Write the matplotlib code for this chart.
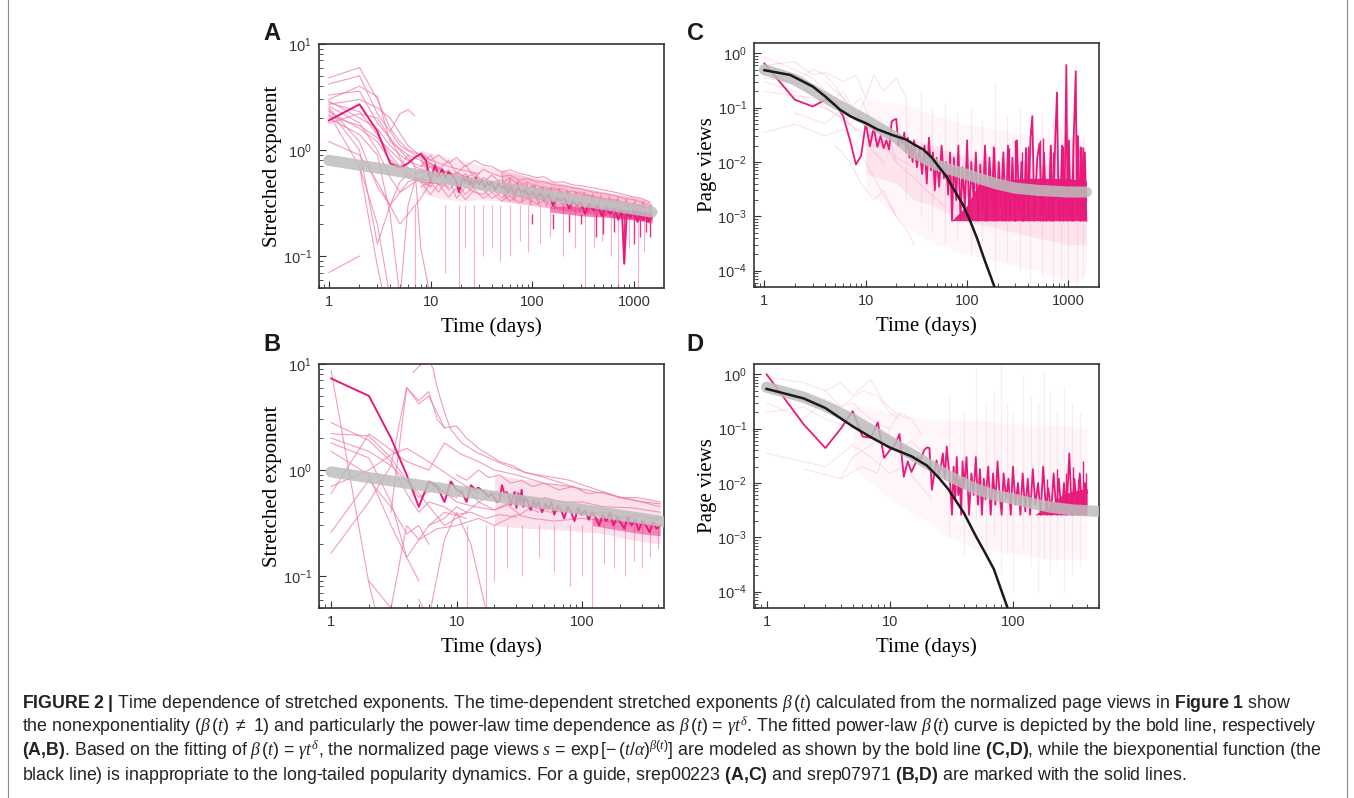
import matplotlib
matplotlib.use('Agg')
import matplotlib.pyplot as plt
from matplotlib.ticker import FixedLocator, LogLocator, NullFormatter, FuncFormatter
from matplotlib.lines import Line2D
import numpy as np

plt.rcParams['font.family'] = ['Liberation Sans', 'DejaVu Sans']
plt.rcParams['mathtext.fontset'] = 'custom'
plt.rcParams['mathtext.rm'] = 'Liberation Sans'
plt.rcParams['mathtext.it'] = 'Liberation Serif:italic'
plt.rcParams['mathtext.bf'] = 'Liberation Sans:bold'

MAG = '#E8197A'
PINK = '#F07AA6'
FAINT = '#F06A9B'
GRAY = '#BDBDBD'

# ---------------- Panel A : stretched exponent, srep00223 ----------------
a_fit_days = [1, 1500]
a_fit_vals = [0.80, 0.26]
a_hi_days = [1, 2, 3, 4, 5, 6, 7, 8, 9, 10, 11, 12, 13, 14, 15, 16, 17, 18, 19, 20,
             21, 22, 23, 24, 25, 26, 28, 30, 32, 34, 36, 38, 40, 43, 46, 50, 54, 58, 62, 67,
             72, 78, 85, 92, 100, 110, 120, 130, 145, 160, 175, 190, 210, 230, 250, 275, 300,
             330, 360, 400, 440, 480, 530, 580, 640, 700, 760, 800, 850, 920, 1000, 1080,
             1150, 1230, 1300, 1380, 1450, 1500]
a_hi_vals = [1.9, 2.7, 1.5, 0.75, 0.68, 0.75, 0.85, 0.92, 0.8, 0.5, 0.72, 0.58, 0.66, 0.55, 0.62,
             0.58, 0.55, 0.5, 0.4, 0.48, 0.55, 0.5, 0.55, 0.47, 0.52, 0.45, 0.55, 0.47, 0.52, 0.44,
             0.5, 0.46, 0.5, 0.42, 0.48, 0.44, 0.46, 0.4, 0.45, 0.38, 0.44, 0.4, 0.42, 0.37, 0.4,
             0.36, 0.39, 0.34, 0.38, 0.3, 0.36, 0.33, 0.35, 0.28, 0.33, 0.3, 0.32, 0.25, 0.31, 0.27,
             0.3, 0.24, 0.29, 0.25, 0.28, 0.22, 0.27, 0.085, 0.26, 0.23, 0.27, 0.21, 0.26, 0.22,
             0.25, 0.21, 0.24, 0.23]
a_hi_spike_days = [100, 160, 230, 300, 420, 500, 640, 800, 1000, 1150, 1300, 1450]
a_hi_spike_vals = [0.2, 0.18, 0.17, 0.2, 0.15, 0.16, 0.17, 0.085, 0.13, 0.15, 0.17, 0.15]
a_core_days = [150, 300, 600, 1000, 1500]
a_core_low = [0.26, 0.24, 0.23, 0.22, 0.21]
a_core_high = [0.3, 0.29, 0.28, 0.27, 0.26]
a_bg = [
    ([1, 2, 3, 4, 5, 6, 8, 10, 15, 20, 30], [4.8, 6.0, 3.0, 1.6, 1.2, 1.0, 0.9, 0.8, 0.7, 0.65, 0.6]),
    ([1, 2, 3, 4, 5, 7, 10, 15, 20, 30], [4.2, 5.0, 2.2, 1.5, 1.1, 0.9, 0.75, 0.6, 0.55, 0.5]),
    ([1, 2, 3, 4, 6, 8, 10, 14, 20, 30], [3.0, 4.0, 3.2, 1.2, 0.9, 0.8, 0.7, 0.62, 0.58, 0.52]),
    ([1, 2, 3, 4, 5, 6, 8, 12, 20], [2.8, 2.3, 1.4, 0.9, 0.7, 0.55, 0.5, 0.48, 0.5]),
    ([1, 2, 3, 4, 5, 7, 10], [2.6, 1.8, 1.0, 0.55, 0.4, 0.5, 0.6]),
    ([1, 2, 3, 4, 5, 8, 10, 15], [2.5, 1.2, 0.45, 0.3, 0.2, 0.35, 0.5, 0.45]),
    ([1, 2, 3, 4, 5, 6], [2.4, 1.0, 0.13, 0.3, 0.5, 0.6]),
    ([1, 2, 3, 3.5], [2.2, 0.7, 0.08, 0.04]),
    ([1, 2, 3, 4, 5, 6, 7], [2.0, 1.4, 0.9, 0.25, 0.04, 0.3, 0.5]),
    ([1, 2, 3, 4, 6, 10], [1.8, 2.2, 2.0, 1.3, 0.6, 0.45]),
    ([1, 2, 3, 5, 7, 10, 20], [3.3, 3.6, 1.8, 1.0, 0.7, 0.6, 0.55]),
    ([1, 2, 3, 4, 6, 9, 12], [2.7, 3.0, 2.5, 2.0, 1.1, 0.8, 0.65]),
    ([4, 5, 6, 7], [1.5, 2.2, 2.4, 2.1]),
    ([1, 2], [0.07, 0.1]),
    ([1, 2, 3, 4, 5, 6, 8, 10], [1.2, 0.9, 0.5, 0.3, 0.4, 0.5, 0.55, 0.5]),
    ([2, 3, 4, 5], [0.7, 0.2, 0.04, 0.02]),
    ([1, 2, 3, 4, 5, 6, 7, 8, 10], [2.3, 1.6, 1.2, 0.8, 0.7, 0.9, 0.7, 0.12, 0.04]),
    ([1, 2, 3, 4, 5, 6, 8, 10, 12], [2.9, 2.0, 1.6, 1.1, 0.9, 0.8, 0.7, 0.75, 0.6]),
    ([1, 2, 3, 4, 5, 7, 9, 12], [2.1, 1.7, 1.3, 1.0, 0.8, 0.6, 0.65, 0.55]),
]
a_mesh_days = [8, 10, 12, 15, 18, 22, 27, 33, 40, 50, 60, 75, 90, 110, 130, 160, 200, 250,
               300, 400, 500, 650, 800, 1000, 1200, 1450]
a_mesh = [
    [0.95, 0.8, 0.9, 0.75, 0.85, 0.7, 0.8, 0.72, 0.7, 0.62, 0.65, 0.6, 0.58, 0.55, 0.56, 0.5,
     0.5, 0.47, 0.46, 0.44, 0.42, 0.4, 0.38, 0.36, 0.35, 0.32],
    [0.6, 0.7, 0.55, 0.65, 0.5, 0.6, 0.48, 0.55, 0.5, 0.52, 0.45, 0.5, 0.44, 0.47, 0.42, 0.44,
     0.4, 0.41, 0.38, 0.37, 0.35, 0.34, 0.32, 0.31, 0.3, 0.28],
    [0.45, 0.5, 0.4, 0.55, 0.35, 0.45, 0.4, 0.38, 0.45, 0.35, 0.42, 0.36, 0.4, 0.34, 0.36, 0.33,
     0.34, 0.31, 0.32, 0.3, 0.28, 0.28, 0.26, 0.25, 0.25, 0.24],
    [0.8, 0.6, 0.7, 0.5, 0.62, 0.55, 0.6, 0.5, 0.58, 0.48, 0.55, 0.46, 0.5, 0.43, 0.45, 0.42,
     0.43, 0.38, 0.4, 0.36, 0.34, 0.33, 0.31, 0.3, 0.29, 0.27],
    [0.55, 0.45, 0.6, 0.42, 0.5, 0.38, 0.46, 0.42, 0.35, 0.4, 0.33, 0.38, 0.35, 0.37, 0.33, 0.35,
     0.31, 0.33, 0.3, 0.29, 0.27, 0.27, 0.25, 0.24, 0.23, 0.22],
    [0.7, 0.9, 0.65, 0.8, 0.6, 0.72, 0.55, 0.66, 0.6, 0.56, 0.58, 0.52, 0.54, 0.5, 0.5, 0.47,
     0.46, 0.44, 0.43, 0.4, 0.39, 0.37, 0.35, 0.34, 0.32, 0.3],
    [0.5, 0.38, 0.48, 0.36, 0.44, 0.34, 0.42, 0.35, 0.4, 0.33, 0.37, 0.32, 0.35, 0.31, 0.33,
     0.3, 0.31, 0.29, 0.29, 0.27, 0.26, 0.25, 0.24, 0.23, 0.22, 0.21],
]
a_zz_days = [50, 55, 60, 66, 72, 80, 88, 96, 105, 115, 126, 138, 152, 167, 184, 202, 222, 244,
             268, 295, 324, 356, 392, 431, 474, 521, 573, 630, 693, 762, 838, 922, 1014, 1115,
             1226, 1349, 1480]
a_zz_vals = [0.6, 0.35, 0.55, 0.33, 0.52, 0.32, 0.5, 0.3, 0.48, 0.3, 0.46, 0.29, 0.45, 0.28,
             0.44, 0.27, 0.42, 0.27, 0.41, 0.26, 0.4, 0.25, 0.39, 0.25, 0.38, 0.24, 0.37, 0.23,
             0.36, 0.23, 0.35, 0.22, 0.34, 0.22, 0.33, 0.21, 0.3]
a_mesh_band_days = [8, 12, 20, 30, 50]
a_mesh_band_high = [1.0, 0.9, 0.8, 0.72, 0.65]
a_mesh_band_low = [0.4, 0.35, 0.33, 0.34, 0.33]
a_band_days = [50, 100, 200, 400, 700, 1000, 1300, 1500]
a_band_high = [0.65, 0.55, 0.48, 0.42, 0.38, 0.36, 0.34, 0.31]
a_band_low = [0.33, 0.3, 0.27, 0.25, 0.23, 0.22, 0.21, 0.2]
a_spike_days = [7, 14, 19, 22, 27, 33, 40, 48, 60, 75, 90, 120, 150, 200, 260, 330, 400, 480,
                600, 700, 900, 1100, 1250]
a_spike_vals = [0.05, 0.07, 0.05, 0.12, 0.05, 0.1, 0.12, 0.09, 0.1, 0.14, 0.11, 0.13, 0.15,
                0.1, 0.12, 0.05, 0.12, 0.14, 0.1, 0.05, 0.12, 0.05, 0.11]

# ---------------- Panel B : stretched exponent, srep07971 ----------------
b_fit_days = [1, 450]
b_fit_vals = [0.96, 0.325]
b_hi_days = [1, 2, 3, 4, 5, 6, 7, 8, 9, 10, 11, 12, 13, 14, 15, 16, 17, 18, 19, 20, 21, 22, 23,
             24, 25, 26, 27, 28, 29, 30, 31, 32, 33, 34, 35, 37, 39, 41, 43, 45, 48, 51, 54, 57,
             60, 64, 68, 72, 77, 82, 87, 93, 99, 106, 113, 120, 128, 137, 146, 156, 167, 178,
             190, 203, 217, 232, 248, 265, 283, 302, 323, 345, 368, 393, 420]
b_hi_vals = [7.3, 5.0, 2.0, 0.9, 0.45, 0.78, 0.7, 0.5, 0.78, 0.65, 0.62, 0.5, 0.72, 0.66, 0.68,
             0.64, 0.6, 0.56, 0.6, 0.54, 0.5, 0.52, 0.72, 0.6, 0.62, 0.58, 0.47, 0.55, 0.62, 0.44,
             0.6, 0.5, 0.65, 0.45, 0.55, 0.5, 0.42, 0.52, 0.45, 0.5, 0.4, 0.48, 0.43, 0.5, 0.38,
             0.46, 0.42, 0.35, 0.45, 0.4, 0.33, 0.44, 0.38, 0.42, 0.34, 0.4, 0.36, 0.3, 0.38, 0.33,
             0.4, 0.3, 0.36, 0.32, 0.28, 0.36, 0.3, 0.34, 0.27, 0.33, 0.3, 0.26, 0.32, 0.28, 0.3]
b_core_days = [120, 200, 300, 420]
b_core_low = [0.3, 0.27, 0.25, 0.24]
b_core_high = [0.36, 0.34, 0.32, 0.31]
b_bg = [
    ([1, 2, 2.5], [8.6, 0.085, 0.03]),
    ([1, 2, 3, 4, 5, 6, 8, 10, 13, 17, 22, 30], [2.8, 1.9, 1.2, 0.6, 0.4, 0.5, 0.45, 0.38, 0.4, 0.35, 0.38, 0.36]),
    ([1, 2, 3, 4, 5, 7, 10, 14, 20, 30, 45], [2.2, 2.1, 1.3, 0.8, 0.55, 0.7, 0.5, 0.45, 0.42, 0.5, 0.4]),
    ([1, 2, 3, 4, 6, 8, 12], [1.8, 1.3, 0.5, 0.15, 0.3, 0.4, 0.35]),
    ([1, 2, 3, 4, 5], [1.5, 0.9, 0.3, 0.15, 0.09]),
    ([1, 2, 3, 4, 5, 6, 8], [2.0, 1.5, 1.1, 6.0, 4.2, 5.0, 2.5]),
    ([1, 2, 3, 4, 6, 10, 15], [0.7, 1.0, 1.4, 1.6, 1.2, 0.8, 0.6]),
    ([1, 2, 3, 4, 5, 6], [0.26, 0.8, 0.45, 0.25, 0.3, 0.2]),
    ([1, 2, 3, 5, 8, 12], [0.165, 0.5, 1.1, 0.6, 0.3, 0.4]),
    ([1, 2, 4, 6, 8, 11, 15, 20, 30, 50, 80, 150, 300, 420],
     [0.6, 2.2, 1.2, 1.0, 1.8, 1.4, 1.2, 1.0, 0.9, 0.75, 0.7, 0.6, 0.5, 0.45]),
    ([3, 4, 5, 6, 7, 8, 10, 12, 15, 18, 22, 28, 35, 45, 60, 80, 110, 150, 200, 300, 420],
     [0.4, 6.0, 4.5, 5.5, 3.0, 2.5, 2.6, 2.0, 1.6, 1.4, 1.2, 1.1, 0.95, 0.9, 0.85, 0.8, 0.7, 0.62, 0.55, 0.5, 0.48]),
    ([4.5, 5, 6, 6.5, 7, 8, 9, 11, 14, 18, 25, 35, 50, 70, 100],
     [8.3, 9.5, 11, 9.0, 6.0, 3.5, 2.4, 1.8, 1.5, 1.3, 1.1, 0.95, 0.85, 0.75, 0.65]),
    ([5, 6, 8, 10, 13, 17, 22], [0.06, 0.04, 0.22, 0.4, 0.2, 0.05, 0.03]),
    ([2, 3, 4, 5, 7, 10, 15, 20, 30, 40, 60, 100, 200, 420],
     [0.09, 0.05, 0.3, 0.22, 0.28, 0.3, 0.35, 0.3, 0.38, 0.35, 0.33, 0.35, 0.32, 0.3]),
    ([6, 8, 10, 12, 15, 20, 25, 32, 40, 55, 75, 100, 140, 200, 300, 420],
     [0.3, 0.35, 0.45, 0.4, 0.5, 0.42, 0.48, 0.38, 0.45, 0.4, 0.42, 0.38, 0.4, 0.36, 0.37, 0.34]),
    ([8, 10, 12, 15, 20, 25, 30, 40, 50, 70, 100, 150, 250, 420],
     [0.6, 0.55, 0.7, 0.5, 0.6, 0.55, 0.62, 0.5, 0.55, 0.5, 0.5, 0.45, 0.44, 0.4]),
    ([10, 12, 15, 18, 22, 27, 33, 40, 50, 65, 85, 110, 150, 200, 280, 420],
     [0.9, 0.8, 1.0, 0.85, 0.9, 0.75, 0.8, 0.7, 0.75, 0.65, 0.7, 0.6, 0.62, 0.55, 0.55, 0.5]),
]
b_band_days = [20, 40, 80, 150, 250, 420]
b_band_high = [0.9, 0.8, 0.7, 0.6, 0.55, 0.5]
b_band_low = [0.3, 0.28, 0.27, 0.25, 0.22, 0.2]
b_spike_days = [12, 17, 20, 25, 33, 45, 60, 80, 100, 120, 150, 180, 220, 260, 300, 350, 400]
b_spike_vals = [0.05, 0.05, 0.09, 0.12, 0.1, 0.15, 0.11, 0.08, 0.1, 0.05, 0.13, 0.12, 0.1,
                0.14, 0.12, 0.15, 0.18]

# ---------------- Panel C : page views, srep00223 ----------------
c_fit_days = [1, 2, 3, 5, 8, 10, 15, 20, 30, 50, 70, 100, 150, 200, 300, 500, 700, 1000, 1500]
c_fit_vals = [0.5, 0.33, 0.21, 0.12, 0.075, 0.06, 0.038, 0.028, 0.0148, 0.0088, 0.0072, 0.0059,
              0.0046, 0.0039, 0.0033, 0.003, 0.0029, 0.0028, 0.0028]
c_bx_days = [1, 1.8, 3, 4, 5.6, 7, 8, 10, 13, 18.6, 25, 30, 37, 45, 53, 62, 75, 90, 105, 125,
             150, 170, 190]
c_bx_vals = [0.49, 0.40, 0.245, 0.16, 0.091, 0.07, 0.062, 0.052, 0.04, 0.031, 0.026, 0.021,
             0.017, 0.012, 0.008, 0.0055, 0.003, 0.0017, 0.0009, 0.0004, 0.00015, 8e-5, 4.5e-5]
c_hi_days = [1, 2, 3, 4, 5, 6, 7, 8, 9, 10, 11, 12, 13, 14, 15, 16, 17, 18, 19, 20, 21, 22, 23,
             24, 25, 26, 27, 28, 29, 30, 32, 34, 36, 38, 40, 42, 44, 46, 48, 50, 53, 56, 59, 62,
             65, 68, 71, 74, 78, 82, 86, 90, 95, 100, 105, 110, 116, 122, 128, 135, 142, 150,
             158, 166, 175, 185, 195, 205, 216, 228, 240, 253, 266, 280, 295, 310, 327, 344,
             362, 381, 401, 422, 440, 460, 492, 518, 545, 574, 604, 636, 670, 705, 742, 770,
             800, 822, 865, 910, 953, 980, 1010, 1050, 1080, 1120, 1180, 1210, 1240, 1300,
             1350, 1400, 1450, 1500]
c_hi_vals = [0.65, 0.14, 0.105, 0.14, 0.12, 0.069, 0.025, 0.009, 0.013, 0.052, 0.0195, 0.043,
             0.019, 0.03, 0.018, 0.025, 0.017, 0.055, 0.06, 0.062, 0.02, 0.03, 0.022, 0.035,
             0.015, 0.028, 0.012, 0.02, 0.01, 0.025, 0.008, 0.018, 0.006, 0.02, 0.004, 0.028,
             0.007, 0.015, 0.003, 0.012, 0.0035, 0.02, 0.005, 0.01, 0.0025, 0.015, 0.00083,
             0.012, 0.002, 0.02, 0.0009, 0.008, 0.0015, 0.025, 0.00083, 0.01, 0.002, 0.015,
             0.00083, 0.009, 0.0012, 0.02, 0.00083, 0.012, 0.002, 0.018, 0.00083, 0.01, 0.0015,
             0.015, 0.00083, 0.02, 0.001, 0.012, 0.00083, 0.025, 0.0012, 0.01, 0.00083, 0.018,
             0.0011, 0.028, 0.07, 0.00083, 0.012, 0.022, 0.0012, 0.015, 0.00083, 0.0009, 0.02,
             0.00083, 0.03, 0.19, 0.0011, 0.00083, 0.02, 0.001, 0.61, 0.00083, 0.025, 0.0009,
             0.00083, 0.02, 0.47, 0.001, 0.03, 0.00083, 0.018, 0.0009, 0.015, 0.00083]
c_core_days = [70, 100, 130, 200, 400, 700, 1000, 1500]
c_core_low = [0.00083, 0.00083, 0.00083, 0.00083, 0.00083, 0.00083, 0.00083, 0.00083]
c_core_high = [0.00083, 0.0016, 0.004, 0.0045, 0.005, 0.005, 0.005, 0.0045]
c_hspk_days = [150, 180, 220, 260, 300, 350, 400, 520, 560, 650, 700, 880, 1100, 1300, 1400]
c_hspk_vals = [0.015, 0.02, 0.012, 0.018, 0.025, 0.015, 0.02, 0.025, 0.028, 0.02, 0.015, 0.02,
               0.03, 0.02, 0.019]
c_bg = [
    ([1, 2, 3, 4, 5, 6, 8, 10, 12], [0.85, 0.5, 0.35, 0.2, 0.15, 0.2, 0.08, 0.05, 0.03]),
    ([1, 2, 3, 4, 5, 7, 9, 11], [0.35, 0.3, 0.5, 0.4, 0.25, 0.1, 0.15, 0.06]),
    ([1, 2, 3, 5, 7, 9, 12, 15], [0.3, 0.2, 0.12, 0.08, 0.05, 0.03, 0.015, 0.01]),
    ([1, 2, 4, 6, 8, 10, 13, 16, 20], [0.035, 0.05, 0.03, 0.04, 0.02, 0.01, 0.004, 0.002, 0.001]),
    ([1, 2, 3, 4, 6, 8, 10], [0.6, 0.7, 0.4, 0.45, 0.3, 0.4, 0.15]),
    ([1, 3, 5, 7, 9, 11, 14, 17, 20], [0.2, 0.15, 0.12, 0.05, 0.08, 0.03, 0.02, 0.03, 0.01]),
    ([2, 4, 6, 8, 10, 12, 15, 20, 25], [0.08, 0.05, 0.1, 0.06, 0.15, 0.4, 0.2, 0.35, 0.15]),
    ([1, 2, 3, 4, 6, 8, 10, 15, 20, 30], [0.5, 0.25, 0.18, 0.1, 0.06, 0.04, 0.035, 0.02, 0.012, 0.008]),
    ([4, 6, 8, 10, 15, 20, 30, 40, 60], [0.3, 0.15, 0.08, 0.045, 0.02, 0.01, 0.005, 0.003, 0.0015]),
    ([5, 7, 9, 12, 15, 20, 25, 30], [0.02, 0.01, 0.004, 0.002, 0.003, 0.001, 0.0006, 0.0003]),
]
c_mass_days = [10, 20, 30, 50, 70, 100, 200, 300, 500, 700, 1000, 1300, 1500]
c_mass_high = [0.15, 0.12, 0.1, 0.07, 0.06, 0.05, 0.04, 0.035, 0.03, 0.03, 0.03, 0.028, 0.02]
c_mass_low = [0.003, 0.001, 5e-4, 3e-4, 2.5e-4, 2e-4, 1.5e-4, 1.2e-4, 1e-4, 8e-5, 6e-5, 6e-5, 1e-4]
c_dense_high = [0.04, 0.03, 0.025, 0.02, 0.015, 0.012, 0.01, 0.01, 0.009, 0.009, 0.009, 0.009, 0.008]
c_dense_low = [0.006, 0.004, 0.002, 0.0015, 0.001, 8e-4, 6e-4, 5e-4, 4e-4, 3.5e-4, 3e-4, 3e-4, 3e-4]
c_fspk_days = [25, 35, 45, 60, 80, 110, 140, 190, 250, 330, 420, 550, 700, 850, 1000, 1200, 1400]
c_fspk_top = [0.15, 0.2, 0.1, 0.12, 0.08, 0.1, 0.06, 0.3, 0.07, 0.1, 0.05, 0.08, 0.06, 0.05,
              0.05, 0.04, 0.03]
c_fspk_bot = [0.002, 0.001, 5e-4, 3e-4, 4e-4, 2e-4, 3e-4, 1e-4, 1.5e-4, 1e-4, 6e-5, 8e-5,
              5e-5, 5e-5, 5e-5, 5e-5, 8e-5]

# ---------------- Panel D : page views, srep07971 ----------------
d_fit_days = [1, 2, 3, 5, 8, 10, 15, 20, 30, 50, 70, 100, 150, 200, 300, 500]
d_fit_vals = [0.58, 0.38, 0.26, 0.15, 0.08, 0.058, 0.034, 0.023, 0.0135, 0.0078, 0.006,
              0.0051, 0.0041, 0.0036, 0.0032, 0.003]
d_bx_days = [1, 2, 3, 5, 7, 10, 15, 20, 25, 30, 40, 50, 60, 70, 80, 92]
d_bx_vals = [0.54, 0.36, 0.24, 0.11, 0.07, 0.045, 0.031, 0.021, 0.0125, 0.0076, 0.0028,
             0.00105, 5e-4, 2.6e-4, 1.1e-4, 4.5e-5]
d_hi_days = [1, 2, 3, 4, 5, 6, 7, 8, 9, 10, 11, 12, 13, 14, 15, 16, 17, 18, 19, 20, 21, 22, 23,
             24, 25, 26, 27, 28, 29, 30, 31, 32, 33, 34, 35, 36, 37, 38, 39, 40, 42, 44, 46, 48,
             50, 52, 54, 56, 58, 60, 63, 66, 69, 72, 75, 78, 81, 84, 88, 92, 96, 100, 105, 110,
             115, 120, 126, 132, 138, 145, 152, 160, 168, 176, 185, 194, 204, 214, 225, 236,
             248, 260, 273, 287, 301, 316, 332, 349, 366, 384, 400]
d_hi_vals = [1.0, 0.12, 0.044, 0.1, 0.21, 0.072, 0.068, 0.13, 0.029, 0.04, 0.05, 0.08, 0.013,
             0.025, 0.016, 0.022, 0.03, 0.028, 0.04, 0.045, 0.044, 0.0075, 0.015, 0.026, 0.014,
             0.02, 0.035, 0.012, 0.047, 0.02, 0.009, 0.0026, 0.02, 0.005, 0.03, 0.006, 0.012,
             0.0026, 0.025, 0.008, 0.03, 0.0026, 0.015, 0.006, 0.03, 0.004, 0.018, 0.0026, 0.012,
             0.005, 0.02, 0.0026, 0.015, 0.004, 0.025, 0.006, 0.0026, 0.015, 0.005, 0.012, 0.0026,
             0.02, 0.004, 0.01, 0.0026, 0.015, 0.003, 0.012, 0.0026, 0.018, 0.004, 0.01, 0.0026,
             0.02, 0.0035, 0.008, 0.0026, 0.015, 0.003, 0.012, 0.0026, 0.01, 0.003, 0.035,
             0.0026, 0.012, 0.003, 0.015, 0.0026, 0.01, 0.0065]
d_core_days = [150, 200, 250, 300, 400]
d_core_low = [0.0026, 0.0026, 0.0026, 0.0026, 0.0026]
d_core_high = [0.0026, 0.004, 0.006, 0.007, 0.008]
d_hspk_days = [190, 230, 270, 310, 340, 370, 390]
d_hspk_vals = [0.012, 0.018, 0.015, 0.02, 0.012, 0.025, 0.015]
d_bg = [
    ([1, 2, 3, 4, 5, 6, 8, 10], [0.9, 0.7, 0.5, 0.25, 0.3, 0.2, 0.12, 0.1]),
    ([1, 2, 3, 4, 6, 8, 10, 12], [0.3, 0.15, 0.35, 0.25, 0.5, 0.4, 0.2, 0.15]),
    ([1, 2, 3, 5, 7, 10, 14], [0.2, 0.25, 0.15, 0.1, 0.12, 0.06, 0.04]),
    ([1, 3, 5, 7, 10, 13, 17, 22], [0.035, 0.02, 0.05, 0.03, 0.015, 0.02, 0.01, 0.005]),
    ([3, 4, 5, 6, 7, 9, 11, 14], [0.5, 0.7, 0.4, 0.6, 0.8, 0.3, 0.2, 0.15]),
    ([4, 5, 7, 9, 12, 15, 20, 25, 30], [0.012, 0.03, 0.05, 0.08, 0.04, 0.06, 0.03, 0.02, 0.015]),
    ([2, 4, 6, 8, 10, 12, 15, 18], [0.018, 0.012, 0.02, 0.015, 0.1, 0.2, 0.15, 0.08]),
]
d_mass_days = [5, 10, 20, 30, 50, 100, 200, 400]
d_mass_high = [0.3, 0.2, 0.15, 0.15, 0.15, 0.12, 0.12, 0.1]
d_mass_low = [0.02, 0.005, 0.002, 0.001, 6e-4, 5e-4, 4e-4, 4e-4]
d_fspk_days = [30, 40, 50, 60, 70, 80, 90, 100, 120, 140, 160, 180, 200, 230, 260, 300, 350]
d_fspk_top = [0.4, 0.2, 1.3, 0.3, 0.5, 1.5, 0.3, 0.2, 1.0, 0.4, 0.3, 1.2, 0.5, 0.2, 0.6, 0.3, 0.2]
d_fspk_bot = [0.001, 5e-4, 0.002, 3e-4, 1e-3, 2e-4, 5e-4, 1e-4, 6e-4, 3e-4, 1e-4, 4e-4, 2e-4,
              3e-4, 1e-4, 2e-4, 3e-4]

caption_lines = [
    r"$\mathbf{FIGURE\ 2\ |}$ Time dependence of stretched exponents. The time-dependent stretched exponents $\beta\,(t)$ calculated from the normalized page views in $\mathbf{Figure\ 1}$ show",
    r"the nonexponentiality ($\beta\,(t)$ $\neq$ 1) and particularly the power-law time dependence as $\beta\,(t)$ = $\gamma t^{\delta}$. The fitted power-law $\beta\,(t)$ curve is depicted by the bold line, respectively",
    r"$\mathbf{(A{,}B)}$. Based on the fitting of $\beta\,(t)$ = $\gamma t^{\delta}$, the normalized page views $s$ = exp$\,[-\,(t/\alpha)^{\beta(t)}]$ are modeled as shown by the bold line $\mathbf{(C{,}D)}$, while the biexponential function (the",
    r"black line) is inappropriate to the long-tailed popularity dynamics. For a guide, srep00223 $\mathbf{(A{,}C)}$ and srep07971 $\mathbf{(B{,}D)}$ are marked with the solid lines.",
]

W, H = 1354, 798
fig = plt.figure(figsize=(W / 100, H / 100), dpi=100)


def fax(l, t, r, b):
    return fig.add_axes([l / W, 1 - b / H, (r - l) / W, (b - t) / H])


def style(ax, xlim, ylim, xt, yt, ylabel):
    ax.set_xscale('log')
    ax.set_yscale('log')
    ax.set_xlim(xlim)
    ax.set_ylim(ylim)
    ax.xaxis.set_major_locator(FixedLocator(xt))
    ax.xaxis.set_major_formatter(FuncFormatter(lambda v, p: '%d' % round(v)))
    ax.xaxis.set_minor_locator(LogLocator(base=10, subs=(2, 3, 4, 5, 6, 7, 8, 9), numticks=30))
    ax.xaxis.set_minor_formatter(NullFormatter())
    ax.yaxis.set_major_locator(FixedLocator(yt))
    ax.yaxis.set_major_formatter(FuncFormatter(
        lambda v, p: r'$\mathregular{10^{%d}}$' % round(np.log10(v))))
    ax.yaxis.set_minor_locator(LogLocator(base=10, subs=(2, 3, 4, 5, 6, 7, 8, 9), numticks=30))
    ax.yaxis.set_minor_formatter(NullFormatter())
    ax.tick_params(which='both', direction='in', top=False, right=False,
                   colors='#333333', labelcolor='#333333', labelsize=10.5)
    ax.tick_params(which='major', length=5, width=0.8, pad=5)
    ax.tick_params(which='minor', length=3, width=0.6)
    for s in ax.spines.values():
        s.set_color('#333333')
        s.set_linewidth(1.2)
    ax.set_xlabel('Time (days)', family='Liberation Serif', fontsize=15, labelpad=6)
    ax.set_ylabel(ylabel, family='Liberation Serif', fontsize=15)
    ax.yaxis.set_label_coords(-0.107, 0.5)


def lines(ax, series, color, lw, alpha, z=2):
    for d, v in series:
        ax.plot(d, v, color=color, lw=lw, alpha=alpha, zorder=z, solid_joinstyle='miter')


def spikes(ax, days, lo, hi, color, lw, alpha, z=2):
    ax.vlines(days, lo, hi, color=color, lw=lw, alpha=alpha, zorder=z)


# ----- A -----
axA = fax(319, 44, 664, 288)
axA.fill_between(a_mesh_band_days, a_mesh_band_low, a_mesh_band_high, color=PINK, alpha=0.18, lw=0, zorder=1)
axA.fill_between(a_band_days, a_band_low, a_band_high, color=PINK, alpha=0.45, lw=0, zorder=1)
lines(axA, a_bg, PINK, 0.8, 0.75)
lines(axA, [(a_mesh_days, m) for m in a_mesh], PINK, 0.8, 0.75)
lines(axA, [(a_zz_days, a_zz_vals)], PINK, 0.8, 0.8)
spikes(axA, a_spike_days, a_spike_vals, [0.3] * len(a_spike_days), PINK, 0.8, 0.6)
axA.fill_between(a_core_days, a_core_low, a_core_high, color=MAG, alpha=0.55, lw=0, zorder=3)
spikes(axA, a_hi_spike_days, a_hi_spike_vals, [0.25] * len(a_hi_spike_days), MAG, 1.0, 0.9, 3)
axA.plot(a_hi_days, a_hi_vals, color=MAG, lw=1.4, zorder=3)
axA.plot(a_fit_days, a_fit_vals, color=GRAY, lw=8, alpha=0.85, solid_capstyle='round', zorder=4)
style(axA, (0.8, 1970), (0.05, 10), [1, 10, 100, 1000], [0.1, 1, 10], 'Stretched exponent')

# ----- B -----
axB = fax(319, 364, 664, 608)
axB.fill_between(b_band_days, b_band_low, b_band_high, color=PINK, alpha=0.22, lw=0, zorder=1)
lines(axB, b_bg, PINK, 0.8, 0.75)
spikes(axB, b_spike_days, b_spike_vals, [0.3] * len(b_spike_days), PINK, 0.8, 0.6)
axB.fill_between(b_core_days, b_core_low, b_core_high, color=MAG, alpha=0.45, lw=0, zorder=3)
axB.plot(b_hi_days, b_hi_vals, color=MAG, lw=1.4, zorder=3)
axB.plot(b_fit_days, b_fit_vals, color=GRAY, lw=8, alpha=0.85, solid_capstyle='round', zorder=4)
style(axB, (0.8, 450), (0.05, 10), [1, 10, 100], [0.1, 1, 10], 'Stretched exponent')

# ----- C -----
axC = fax(754, 43, 1099, 287)
axC.fill_between(c_mass_days, c_mass_low, c_mass_high, color=FAINT, alpha=0.06, lw=0, zorder=1)
axC.fill_between(c_mass_days, c_dense_low, c_dense_high, color=FAINT, alpha=0.13, lw=0, zorder=1)
spikes(axC, c_fspk_days, c_fspk_bot, c_fspk_top, FAINT, 0.8, 0.15, 1)
lines(axC, c_bg, FAINT, 0.8, 0.2)
axC.fill_between(c_core_days, c_core_low, c_core_high, color=MAG, alpha=0.95, lw=0, zorder=3)
spikes(axC, c_hspk_days, [0.00083] * len(c_hspk_days), c_hspk_vals, MAG, 1.0, 1.0, 3)
axC.plot(c_hi_days, c_hi_vals, color=MAG, lw=1.3, zorder=3)
axC.plot(c_fit_days, c_fit_vals, color=GRAY, lw=8, alpha=0.85, solid_capstyle='round', zorder=4)
axC.plot(c_bx_days, c_bx_vals, color='#1a1a1a', lw=1.8, zorder=5)
style(axC, (0.79, 2000), (5e-5, 1.55), [1, 10, 100, 1000], [1e-4, 1e-3, 1e-2, 1e-1, 1], 'Page views')

# ----- D -----
axD = fax(754, 364, 1099, 608)
axD.fill_between(d_mass_days, d_mass_low, d_mass_high, color=FAINT, alpha=0.06, lw=0, zorder=1)
spikes(axD, d_fspk_days, d_fspk_bot, d_fspk_top, FAINT, 0.8, 0.12, 1)
lines(axD, d_bg, FAINT, 0.8, 0.18)
axD.fill_between(d_core_days, d_core_low, d_core_high, color=MAG, alpha=0.95, lw=0, zorder=3)
spikes(axD, d_hspk_days, [0.0026] * len(d_hspk_days), d_hspk_vals, MAG, 1.0, 1.0, 3)
axD.plot(d_hi_days, d_hi_vals, color=MAG, lw=1.3, zorder=3)
axD.plot(d_fit_days, d_fit_vals, color=GRAY, lw=8, alpha=0.85, solid_capstyle='round', zorder=4)
axD.plot(d_bx_days, d_bx_vals, color='#1a1a1a', lw=1.8, zorder=5)
style(axD, (0.79, 500), (5e-5, 1.55), [1, 10, 100], [1e-4, 1e-3, 1e-2, 1e-1, 1], 'Page views')

# panel letters
for lab, x, y in [('A', 272, 33), ('C', 695, 33), ('B', 272, 345), ('D', 695, 345)]:
    fig.text(x / W, 1 - y / H, lab, fontsize=17, fontweight='bold', ha='center', va='center',
             color='#1a1a1a')

# caption
for i, line in enumerate(caption_lines):
    fig.text(22 / W, 1 - (708 + 24 * i) / H, line, fontsize=12.8, ha='left', va='baseline',
             color='#222222')

# frame
fig.add_artist(Line2D([8 / W, 8 / W], [0, 1], color='#8a8a8a', lw=0.8))
fig.add_artist(Line2D([1347 / W, 1347 / W], [0, 1], color='#8a8a8a', lw=0.8))

fig.savefig('out.png', dpi=100)
